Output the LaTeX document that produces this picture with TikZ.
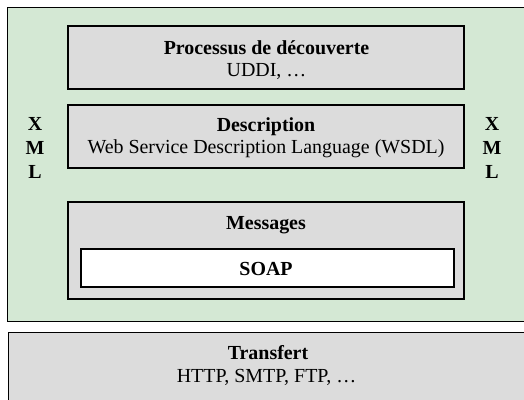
\documentclass[tikz,border=0pt]{standalone}
\usepackage{fontspec}
\setmainfont{Liberation Serif}
\definecolor{greenbg}{RGB}{212,232,212}
\definecolor{graybox}{RGB}{220,220,220}
\begin{document}
\begin{tikzpicture}[x=1bp,y=-1bp,
  layer/.style={draw=black,line width=1.4bp,fill=graybox,inner sep=0pt},
  ttl/.style={font=\fontsize{20}{24}\selectfont\bfseries,inner sep=0pt,anchor=base},
  sub/.style={font=\fontsize{20}{24}\selectfont,inner sep=0pt,anchor=base},
  side/.style={font=\fontsize{20}{24}\selectfont\bfseries,inner sep=0pt,anchor=base}]
\useasboundingbox (0,0) rectangle (524,399);
\clip (0,0) rectangle (524,399);
\fill[white] (0,0) rectangle (524,399);
% XML area
\draw[line width=1.2bp,fill=greenbg] (7.5,7.5) rectangle (540,321.5);
% Processus
\node[layer,minimum width=396bp,minimum height=63bp] (proc) at (266,57.5) {};
\node[ttl] (proct) at (266.5,54) {Processus de découverte};
\node[sub] (procs) at (266.5,76) {UDDI, …};
% Description
\node[layer,minimum width=396bp,minimum height=63bp] (desc) at (266,136.5) {};
\node[ttl] (desct) at (266,131) {Description};
\node[sub] (descs) at (266,153) {Web Service Description Language (WSDL)};
% Messages
\node[layer,minimum width=396bp,minimum height=97bp] (msg) at (266,250.5) {};
\node[ttl] (msgt) at (266,229) {Messages};
\node[layer,fill=white,minimum width=373bp,minimum height=38bp] (soap) at (267.5,268) {};
\node[ttl] (soapt) at (266,275) {SOAP};
% XML side labels
\node[side] (xl1) at (35,130) {X};
\node[side] (xl2) at (35,154) {M};
\node[side] (xl3) at (35,178) {L};
\node[side] (xr1) at (492,130) {X};
\node[side] (xr2) at (492,154) {M};
\node[side] (xr3) at (492,178) {L};
% Transfert
\node[layer,minimum width=540bp,minimum height=90bp,anchor=north west] (trans) at (7.5,332) {};
\node[ttl] (transt) at (268,359) {Transfert};
\node[sub] (transs) at (266.5,382) {HTTP, SMTP, FTP, …};
\end{tikzpicture}
\end{document}
